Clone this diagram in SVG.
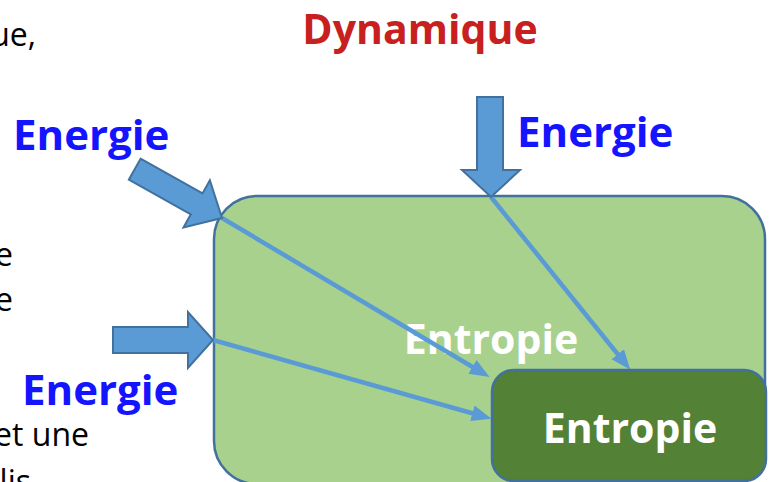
<svg xmlns="http://www.w3.org/2000/svg" width="774" height="482" viewBox="0 0 774 482">
<defs>
<style>
.bg{font-family:"Open Sans","Liberation Sans",sans-serif;font-size:32px;fill:#000}
.lbl{font-family:"Open Sans","Liberation Sans",sans-serif;font-weight:bold}
.en{font-size:42px;fill:#1414ff}
.ent{font-size:41px;fill:#fff;text-anchor:middle}
.dyn{font-size:41px;fill:#c8201e;text-anchor:middle}
.box{stroke:#41719c;stroke-width:2.5}
.blk{fill:#5b9bd5;stroke:#41719c;stroke-width:2;stroke-linejoin:miter}
.thin{stroke:#5b9bd5;stroke-width:4.5;fill:none;marker-end:url(#ah)}
</style>
<marker id="ah" markerUnits="userSpaceOnUse" markerWidth="22" markerHeight="18" refX="10" refY="8" orient="auto">
<path d="M0,0 L20,8 L0,16 z" fill="#5b9bd5"/>
</marker>
</defs>
<rect width="774" height="482" fill="#fff"/>
<g id="background-text">
<text class="bg" x="36" y="46" text-anchor="end">ue,</text>
<text class="bg" x="13" y="266" text-anchor="end">e</text>
<text class="bg" x="13" y="311" text-anchor="end">e</text>
<text class="bg" x="89" y="446" text-anchor="end">et une</text>
<text class="bg" x="31" y="493" text-anchor="end">lis</text>
</g>
<g id="title">
<text class="lbl dyn" x="420" y="44">Dynamique</text>
</g>
<g id="system">
<rect class="box" x="214" y="196" width="551" height="288" rx="43" fill="#a9d18e"/>
<text class="lbl ent" x="491" y="354">Entropie</text>
</g>
<g id="connectors">
<line class="thin" x1="222" y1="218" x2="481" y2="372"/>
<line class="thin" x1="213" y1="340" x2="482" y2="416"/>
<line class="thin" x1="491" y1="197" x2="624" y2="362"/>
</g>
<g id="inner">
<rect class="box" x="492" y="370" width="274" height="111" rx="22" fill="#538135"/>
<text class="lbl ent" x="630" y="443">Entropie</text>
</g>
<g id="energy-top-left">
<polygon class="blk" transform="translate(222,218) rotate(29.2)" points="-100,-12 -29,-12 -29,-27 0,0 -29,27 -29,12 -100,12"/>
<text class="lbl en" x="13" y="150">Energie</text>
</g>
<g id="energy-left">
<polygon class="blk" points="113,327 188,327 188,312 213,340 188,368 188,353 113,353"/>
<text class="lbl en" x="22" y="405">Energie</text>
</g>
<g id="energy-top">
<polygon class="blk" points="477,97 503,97 503,170 520,170 491,197 462,170 477,170"/>
<text class="lbl en" x="517" y="147">Energie</text>
</g>
</svg>
